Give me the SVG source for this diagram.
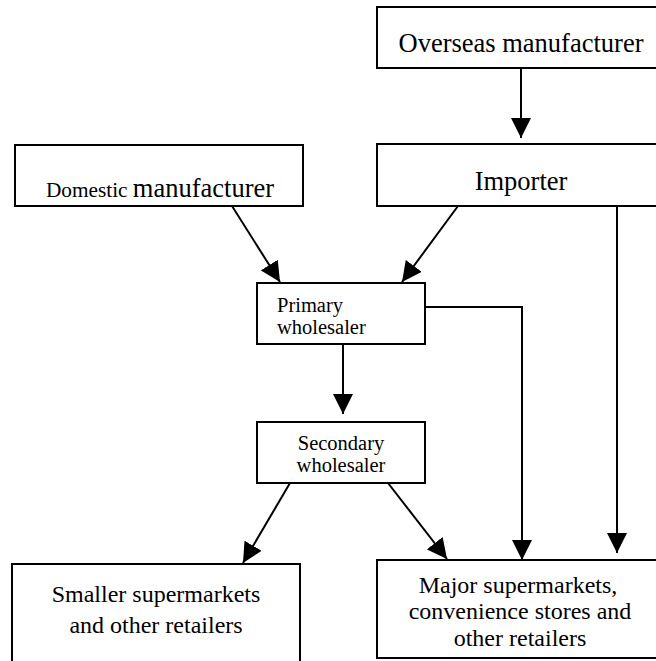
<svg xmlns="http://www.w3.org/2000/svg" width="656" height="661" viewBox="0 0 656 661">
<style>
.box{fill:#fff;stroke:#000;stroke-width:2}
.c{stroke:#000;stroke-width:2;fill:none}
</style>
<defs>
<marker id="ah" markerUnits="userSpaceOnUse" markerWidth="20" markerHeight="20" refX="20" refY="10" orient="auto" viewBox="0 0 20 20">
<path d="M0,0 L20,10 L0,20 z" fill="#000"/>
</marker>
</defs>
<rect width="656" height="661" fill="#fff"/>
<g id="connectors">
<line class="c" x1="521" y1="68" x2="521" y2="138" marker-end="url(#ah)"/>
<line class="c" x1="232" y1="206" x2="280" y2="282" marker-end="url(#ah)"/>
<line class="c" x1="458" y1="206" x2="402" y2="282" marker-end="url(#ah)"/>
<line class="c" x1="343" y1="344" x2="343" y2="414" marker-end="url(#ah)"/>
<line class="c" x1="290" y1="483" x2="243" y2="563" marker-end="url(#ah)"/>
<line class="c" x1="388" y1="483" x2="447" y2="559" marker-end="url(#ah)"/>
<polyline class="c" points="425,307 522,307 522,560" marker-end="url(#ah)"/>
<line class="c" x1="617" y1="206" x2="617" y2="553" marker-end="url(#ah)"/>
</g>
<g font-family="Liberation Serif, DejaVu Serif, Times New Roman, serif" fill="#000">
<g id="overseas">
<rect class="box" x="377" y="7" width="290" height="61"/>
<text x="521" y="52" font-size="26.5" text-anchor="middle">Overseas manufacturer</text>
</g>
<g id="importer">
<rect class="box" x="377" y="144" width="290" height="62"/>
<text x="521" y="190" font-size="26.5" text-anchor="middle">Importer</text>
</g>
<g id="domestic">
<rect class="box" x="15" y="145" width="288" height="61"/>
<text x="160" y="197" text-anchor="middle"><tspan font-size="21.3">Domestic </tspan><tspan font-size="26.5">manufacturer</tspan></text>
</g>
<g id="primary">
<rect class="box" x="257" y="283" width="168" height="61"/>
<text x="277" y="312" font-size="20.5">Primary</text>
<text x="277" y="333.5" font-size="20.5">wholesaler</text>
</g>
<g id="secondary">
<rect class="box" x="257" y="422" width="168" height="61"/>
<text x="341" y="450" font-size="20.5" text-anchor="middle">Secondary</text>
<text x="341" y="471.5" font-size="20.5" text-anchor="middle">wholesaler</text>
</g>
<g id="smaller">
<rect class="box" x="12" y="564" width="288" height="110"/>
<text x="156" y="602" font-size="24" text-anchor="middle">Smaller supermarkets</text>
<text x="156" y="633" font-size="24" text-anchor="middle">and other retailers</text>
</g>
<g id="major">
<rect class="box" x="377" y="560" width="290" height="98"/>
<text x="518" y="593" font-size="24" text-anchor="middle">Major supermarkets,</text>
<text x="520" y="619" font-size="24" text-anchor="middle">convenience stores and</text>
<text x="520" y="646" font-size="24" text-anchor="middle">other retailers</text>
</g>
</g>
</svg>
